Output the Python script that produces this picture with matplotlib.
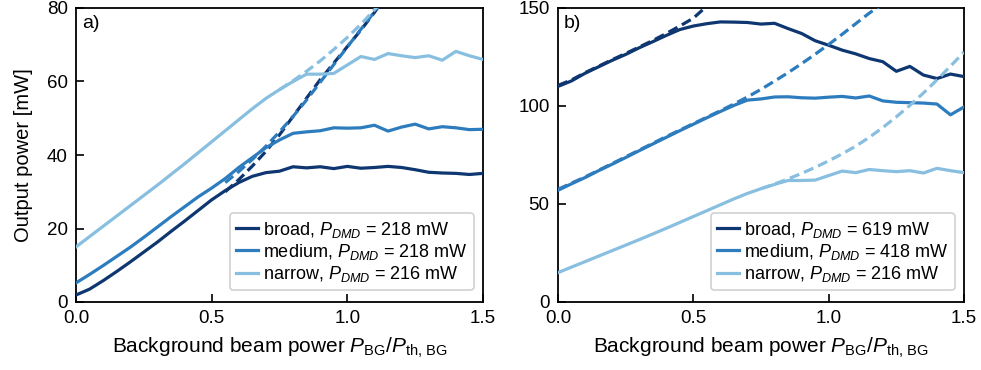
import matplotlib
matplotlib.use("Agg")
import matplotlib.pyplot as plt

plt.rcParams['font.family'] = ['Liberation Sans', 'DejaVu Sans']
plt.rcParams['mathtext.fontset'] = 'custom'
plt.rcParams['mathtext.rm'] = 'Liberation Sans'
plt.rcParams['mathtext.it'] = 'Liberation Sans:italic'
plt.rcParams['font.size'] = 13

# ---------------- Panel a data ----------------
a_broad_x = [0.0, 0.05, 0.1, 0.15, 0.2, 0.25, 0.3, 0.35, 0.4, 0.45, 0.5, 0.55, 0.6, 0.65, 0.7, 0.75,
             0.8, 0.85, 0.9, 0.95, 1.0, 1.05, 1.1, 1.15, 1.2, 1.25, 1.3, 1.35, 1.4, 1.45, 1.5]
a_broad_y = [1.9, 3.5, 5.8, 8.3, 10.9, 13.6, 16.3, 19.2, 22.0, 24.9, 27.8, 30.3, 32.5, 34.2, 35.2, 35.6,
             36.8, 36.5, 36.8, 36.3, 36.9, 36.4, 36.6, 36.9, 36.6, 36.0, 35.3, 35.1, 35.0, 34.7, 35.0]
a_broad_fit_x = [0.55, 0.6, 0.65, 0.7, 0.75, 0.8, 0.85, 0.9, 0.95, 1.0, 1.05, 1.1, 1.13]
a_broad_fit_y = [30.0, 33.3, 37.0, 41.0, 45.5, 50.5, 55.5, 60.5, 65.0, 69.5, 74.0, 78.8, 82.0]

a_medium_x = a_broad_x
a_medium_y = [5.2, 7.5, 9.9, 12.4, 14.9, 17.6, 20.4, 23.2, 25.9, 28.6, 31.0, 33.6, 36.6, 39.3, 42.0, 44.1,
              45.9, 46.3, 46.6, 47.4, 47.3, 47.4, 48.1, 46.5, 47.6, 48.4, 47.1, 47.7, 47.4, 46.9, 47.0]
a_medium_fit_x = [0.55, 0.6, 0.65, 0.7, 0.75, 0.8, 0.85, 0.9, 0.95, 1.0, 1.05, 1.1, 1.13]
a_medium_fit_y = [32.5, 35.5, 38.8, 42.4, 46.3, 50.5, 55.0, 59.8, 64.6, 69.4, 74.2, 79.0, 82.0]

a_narrow_x = a_broad_x
a_narrow_y = [15.0, 17.8, 20.6, 23.4, 26.2, 29.0, 31.8, 34.7, 37.6, 40.6, 43.6, 46.6, 49.6, 52.6, 55.4, 57.8,
              60.0, 62.0, 62.0, 62.2, 64.5, 66.8, 66.0, 67.6, 67.0, 66.5, 67.0, 65.8, 68.2, 67.0, 66.0]
a_narrow_fit_x = [0.75, 0.8, 0.85, 0.9, 0.95, 1.0, 1.05, 1.1, 1.12]
a_narrow_fit_y = [57.8, 60.2, 62.8, 65.6, 68.7, 72.0, 75.6, 79.5, 81.5]

# ---------------- Panel b data ----------------
b_broad_x = a_broad_x
b_broad_y = [110.0, 112.8, 116.7, 120.0, 123.3, 126.3, 129.7, 132.8, 136.0, 139.0, 140.8, 142.0, 142.9, 142.8, 142.6,
             141.8, 142.2, 139.5, 137.0, 133.3, 131.0, 128.5, 126.6, 124.2, 122.6, 117.7, 120.2, 115.8, 114.0, 116.3, 115.0]
b_broad_fit_x = [0.0, 0.05, 0.1, 0.15, 0.2, 0.25, 0.3, 0.35, 0.4, 0.45, 0.5, 0.55]
b_broad_fit_y = [110.5, 113.3, 117.0, 120.3, 123.6, 126.8, 130.1, 133.4, 137.0, 140.8, 144.8, 151.0]

b_medium_x = a_broad_x
b_medium_y = [57.0, 60.3, 63.5, 67.0, 70.3, 73.7, 77.2, 80.6, 84.0, 87.4, 90.7, 94.0, 97.2, 100.3, 103.0, 103.6,
              104.6, 104.7, 104.2, 104.0, 104.5, 104.9, 104.1, 105.1, 102.6, 101.9, 101.7, 101.5, 101.0, 95.5, 99.5]
b_medium_fit_x = [0.0, 0.1, 0.2, 0.3, 0.4, 0.5, 0.55, 0.6, 0.65, 0.7, 0.75, 0.8, 0.85, 0.9, 0.95,
                  1.0, 1.05, 1.1, 1.15, 1.19]
b_medium_fit_y = [57.5, 63.8, 70.6, 77.5, 84.4, 91.0, 94.3, 97.6, 101.0, 104.6, 108.5, 112.7, 117.0, 121.6, 126.4,
                  131.4, 136.6, 142.0, 147.4, 151.0]

b_narrow_x = a_narrow_x
b_narrow_y = a_narrow_y
b_narrow_fit_x = [0.75, 0.8, 0.85, 0.9, 0.95, 1.0, 1.05, 1.1, 1.15, 1.2, 1.25, 1.3, 1.35, 1.4, 1.45, 1.5]
b_narrow_fit_y = [57.8, 60.2, 62.8, 65.6, 68.7, 72.0, 75.6, 79.5, 84.0, 89.0, 94.5, 100.3, 106.6, 113.3, 120.3, 127.5]

x_ticks = [0.0, 0.5, 1.0, 1.5]
a_yticks = [0, 20, 40, 60, 80]
b_yticks = [0, 50, 100, 150]

a_labels = ['broad, $P_{DMD}$ = 218 mW', 'medium, $P_{DMD}$ = 218 mW', 'narrow, $P_{DMD}$ = 216 mW']
b_labels = ['broad, $P_{DMD}$ = 619 mW', 'medium, $P_{DMD}$ = 418 mW', 'narrow, $P_{DMD}$ = 216 mW']

c_dark = '#0e3771'
c_mid = '#2d7cbe'
c_light = '#88bfe0'
lw = 2.3

fig = plt.figure(figsize=(9.81, 3.70), dpi=100)
ax_a = fig.add_axes([76 / 981, 1 - 302 / 370, (483 - 76) / 981, (302 - 8) / 370])
ax_b = fig.add_axes([558 / 981, 1 - 302 / 370, (964 - 558) / 981, (302 - 8) / 370])


def draw(ax, data, labels, yticks, ylim, tag):
    handles = []
    for (x, y, fx, fy, c), lab in zip(data, labels):
        h, = ax.plot(x, y, color=c, lw=lw, label=lab, zorder=3)
        ax.plot(fx, fy, color=c, lw=lw, ls=(0, (3.2, 1.6)), zorder=3)
        handles.append(h)
    ax.set_xlim(0, 1.5)
    ax.set_ylim(*ylim)
    ax.set_xticks(x_ticks)
    ax.set_yticks(yticks)
    ax.tick_params(direction='in', length=6, width=1.2, pad=6, labelsize=13.5)
    for s in ax.spines.values():
        s.set_linewidth(1.3)
    ax.set_xlabel(r'Background beam power $P_{\mathrm{BG}}/P_{\mathrm{th,\,BG}}$', labelpad=6, fontsize=15)
    ax.text(0.014, 0.975, tag, transform=ax.transAxes, ha='left', va='top', fontsize=14)
    leg = ax.legend(handles=handles, loc='lower right', bbox_to_anchor=(0.978, 0.04),
                    borderaxespad=0.0, fontsize=13, handlelength=1.2, handletextpad=0.3,
                    borderpad=0.35, labelspacing=0.12, framealpha=0.9, edgecolor='#cccccc',
                    fancybox=True)
    leg.get_frame().set_linewidth(1.2)


draw(ax_a, [(a_broad_x, a_broad_y, a_broad_fit_x, a_broad_fit_y, c_dark),
            (a_medium_x, a_medium_y, a_medium_fit_x, a_medium_fit_y, c_mid),
            (a_narrow_x, a_narrow_y, a_narrow_fit_x, a_narrow_fit_y, c_light)],
     a_labels, a_yticks, (0, 80), 'a)')
draw(ax_b, [(b_broad_x, b_broad_y, b_broad_fit_x, b_broad_fit_y, c_dark),
            (b_medium_x, b_medium_y, b_medium_fit_x, b_medium_fit_y, c_mid),
            (b_narrow_x, b_narrow_y, b_narrow_fit_x, b_narrow_fit_y, c_light)],
     b_labels, b_yticks, (0, 150), 'b)')
ax_a.set_ylabel('Output power [mW]', labelpad=10, fontsize=14.5)

fig.savefig('out.png', dpi=100)
